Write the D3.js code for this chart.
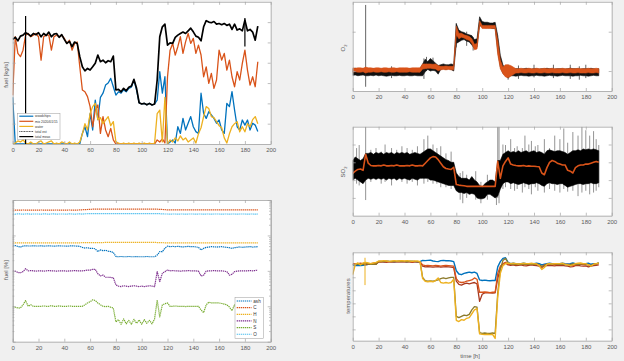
<!DOCTYPE html>
<html>
<head>
<meta charset="utf-8">
<script src="https://cdn.jsdelivr.net/npm/d3@7"></script>
<style>
  body { margin: 0; background: #f0f0f0; }
  svg { display: block; font-family: "Liberation Sans", Arial, sans-serif; }
</style>
</head>
<body>
<svg id="fig" width="624" height="361"></svg>
<script>
// ---- data (2 h grid, 0..190 h) ----
var hours = d3.range(0, 192, 2);
var xTicks = [0, 20, 40, 60, 80, 100, 120, 140, 160, 180, 200];

// fuel flows [kg/s]
var woodchips = [2.3,0,0,0,0,0,0,0,0,0, 0,0,0,0,0,0,0,0,0,0, 0,0,0,0,0,0,0,0.52,0.85,0.36,
  1.5,0.69,2.16,1.2,2.3,2.5,2.9,3.0,3.23,2.82, 2.41,2.57,2.5,2.66,2.57,2.74,2.8,3.15,2.66,2.03,
  1.97,2.0,1.93,2.0,1.92,1.97,2.16,3.56,2.5,3.31, 0,0.1,0.2,0.05,0.85,0.52,1.26,0.69,1.02,1.35,
  0.85,0.61,0.52,2.5,1.5,1.26,1.59,1.43,1.26,1.02, 1.18,0.69,0.52,2.0,1.84,2.58,1.67,0.85,0.69,1.18,
  0.93,1.18,0.69,1.02,0.93,0.61];
var mix = [2.4,5.28,4.46,4.3,4.62,5.36,5.44,5.28,5.36,5.44, 5.28,4.13,5.28,5.36,5.36,4.62,5.28,5.36,5.28,5.36,
  5.2,4.95,5.11,4.62,4.95,5.02,3.8,2.66,2.57,2.33, 1.84,0.85,1.67,1.92,0.52,1.35,0.69,0.36,0.77,0.2,
  0,0,0,0,0,0,0,0,0,0, 0,0,0,0,0,0,0.2,0.1,0.25,0.05,
  3.3,4.62,4.95,4.38,4.79,5.28,4.46,5.03,5.44,4.95, 5.2,4.46,4.87,4.38,3.31,3.8,2.98,3.48,2.74,3.15,
  4.62,4.13,4.46,3.64,4.13,3.31,2.82,3.56,3.15,3.97, 4.62,3.64,2.9,3.31,2.82,4.05];
var water = [0,0.05,0.15,0.1,0.2,0.05,0,0.1,0,0, 0.1,0.15,0,0.05,0.1,0.15,0,0.05,0,0.1,
  0.05,0,0.1,0,0.05,0,0.1,0.5,1.0,0.7, 1.5,1.84,2.0,1.2,1.3,1.0,1.18,1.35,0.9,1.1,
  0.1,0.05,0,0.05,0,0.05,0,0.05,0,0.05, 0,0.05,0,0.05,0,0.05,1.5,1.67,0.1,2.3,
  0,0.2,0.1,0.3,0.15,0.4,0.2,0.3,0.1,0.2, 0.3,0.05,0.5,0.8,1.35,1.84,1.75,1.35,1.3,1.1,
  0.9,0.8,0.3,0.05,0.5,0.85,1.0,1.1,0.6,0.85, 0.6,1.0,0.85,1.2,1.35,1.0];
var totalMeas = [5.15,5.25,5.08,5.31,5.36,5.48,5.41,5.31,5.44,5.38, 5.48,5.28,5.44,5.34,5.51,5.28,5.41,5.44,5.25,5.38,
  5.15,4.95,5.05,4.79,5.02,4.95,4.3,3.8,3.6,3.72, 3.64,3.8,3.97,4.38,4.05,4.13,4.0,4.1,4.05,4.33,
  2.66,2.69,2.57,2.74,2.62,2.79,2.85,3.18,2.74,2.03, 1.97,2.0,1.93,2.0,1.92,1.97,3.15,5.28,5.77,5.9,
  4.87,4.98,4.95,5.25,5.36,5.44,5.51,5.44,5.57,5.7, 5.52,5.31,5.25,5.08,5.77,6.07,6.0,5.97,6.03,5.9,
  5.93,5.87,5.93,5.84,5.9,5.64,5.9,5.61,5.67,5.57, 6.1,5.57,5.64,5.51,5.11,5.8];
var measSpikeT = [10, 180];
var measSpikeLo = [0, 4.8];
var measSpikeHi = [6.3, 6.2];
var fuelNames = ["woodchips", "mix 2020/01/15", "water", "total est", "total meas"];

// fuel composition [%]
var ash = [5.03,5.2,4.9,4.7,5.0,5.1,5.03,5.03,5.1,5.03, 5.03,5.1,5.0,5.03,5.1,5.03,5.0,5.03,5.1,5.03,
  5.03,5.0,5.03,5.1,5.03,5.0,4.9,4.6,4.4,4.5, 4.3,4.33,4.2,3.5,3.9,3.72,3.8,3.6,3.48,3.3,
  2.55,2.5,2.55,2.5,2.5,2.55,2.5,2.5,2.52,2.5, 2.5,2.5,2.55,2.5,2.5,2.5,2.8,3.48,3.5,4.33,
  5.0,4.82,4.9,4.82,4.9,4.82,4.75,4.82,4.9,4.82, 4.82,4.75,4.6,3.9,4.3,4.6,4.7,4.82,4.75,4.7,
  4.75,4.82,4.7,4.6,4.5,4.3,4.5,4.6,4.75,4.6, 4.7,4.75,4.82,4.7,4.75,4.82];
var carbon = [52,52,51.8,52,52.2,52,52,51.8,52,52, 52,52.2,52,52,51.8,52,52,52.2,52,52,
  52,52,52.2,52,52,52,52.5,53,53.5,54, 54.5,55,55,55.3,55,55,55.3,55,55,55,
  55.3,55,55,55.3,55,55,55.3,55,55,55.3, 55,55,55.3,55,55,55,55,54.5,54,53.5,
  52.5,52.5,52.3,52.5,52.5,52.3,52.5,52.5,52.3,52.5, 52.5,52.5,52.3,52.5,52.5,52.3,52.5,52.5,52.3,52.5,
  52.5,52.5,52.3,52.5,52.5,52.3,52.5,52.5,52.3,52.5, 52.5,52.5,52.3,52.5,52.5,52.3];
var hydrogen = [6.2,6.2,6.15,6.2,6.2,6.2,6.15,6.2,6.2,6.2, 6.2,6.2,6.15,6.2,6.2,6.2,6.15,6.2,6.2,6.2,
  6.2,6.2,6.15,6.2,6.2,6.2,6.2,6.25,6.25,6.3, 6.3,6.3,6.3,6.3,6.3,6.3,6.35,6.35,6.35,6.35,
  6.4,6.4,6.4,6.4,6.4,6.4,6.4,6.4,6.4,6.4, 6.4,6.4,6.4,6.4,6.4,6.4,6.3,6.3,6.25,6.2,
  6.2,6.2,6.15,6.2,6.2,6.2,6.15,6.2,6.2,6.2, 6.2,6.2,6.15,6.2,6.2,6.2,6.15,6.2,6.2,6.2,
  6.2,6.2,6.15,6.2,6.2,6.2,6.15,6.2,6.2,6.2, 6.2,6.2,6.15,6.2,6.2,6.2];
var nitrogen = [1.0,0.98,0.9,0.88,0.95,1.15,1.0,1.02,1.0,0.98, 1.0,1.0,0.98,1.0,1.02,1.0,1.0,0.98,1.0,1.0,
  1.0,0.98,1.0,1.0,1.02,1.0,1.0,1.0,1.02,1.05, 1.05,1.1,1.1,0.83,0.72,0.76,0.66,0.66,0.65,0.64,
  0.4,0.37,0.36,0.38,0.37,0.36,0.37,0.38,0.37,0.36, 0.37,0.36,0.37,0.38,0.37,0.36,0.95,0.5,0.85,0.95,
  1.05,1.0,1.02,1.0,1.0,0.98,1.0,1.0,1.02,1.0, 1.0,1.0,0.98,0.72,0.75,0.98,1.0,1.0,1.02,1.0,
  1.0,1.0,0.98,0.95,0.76,0.8,0.95,0.98,1.0,1.0, 1.0,1.0,1.02,1.0,1.02,1.05];
var sulfur = [0.098,0.094,0.09,0.089,0.11,0.145,0.1,0.11,0.1,0.1, 0.1,0.1,0.102,0.1,0.1,0.104,0.1,0.1,0.102,0.1,
  0.1,0.1,0.102,0.1,0.1,0.1,0.1,0.1,0.11,0.124, 0.135,0.152,0.145,0.124,0.11,0.1,0.098,0.1,0.094,0.089,
  0.036,0.042,0.031,0.044,0.032,0.04,0.031,0.043,0.033,0.041, 0.031,0.042,0.033,0.04,0.032,0.044,0.15,0.05,0.11,0.118,
  0.124,0.1,0.1,0.102,0.1,0.1,0.1,0.098,0.1,0.1, 0.1,0.1,0.1,0.079,0.066,0.11,0.13,0.124,0.124,0.124,
  0.124,0.12,0.115,0.11,0.095,0.075,0.11,0.1,0.1,0.1, 0.1,0.1,0.102,0.1,0.1,0.1];
var oxygen = [40.3,40,40.5,40.3,40,40.3,40.5,40,40.3,40.3, 40.3,40,40.5,40.3,40,40.3,40.5,40,40.3,40.3,
  40.3,40,40.5,40.3,40,40.3,40.5,40,40.8,41, 41.5,41.3,41.5,41.5,41.3,41.5,41.5,41.3,41.5,41.5,
  41.5,41.3,41.5,41.5,41.3,41.5,41.5,41.3,41.5,41.5, 41.5,41.3,41.5,41.5,41.3,41.5,41.2,41,40.5,40.2,
  40.2,40,40.2,40.2,40,40.2,40.2,40,40.2,40.2, 40.2,40,40.2,40.2,40,40.2,40.2,40,40.2,40.2,
  40.2,40,40.2,40.2,40,40.2,40.2,40,40.2,40.2, 40.2,40,40.2,40.2,40,40.2];
var compNames = ["ash", "C", "H", "N", "S", "O"];

// O2 [%]: envelope of the measured (black) and modelled (orange) signal
var o2MeasLo = [4.45,4.5,4.4,4.45,4.5,4.4,4.4,4.45,4.4,4.5, 4.4,4.45,4.4,4.35,4.4,4.45,4.4,4.4,4.45,4.4,
  4.4,4.45,4.4,4.4,4.45,4.4,4.4,4.4,4.9,5.2, 5.0,5.1,5.0,4.6,5.2,5.3,5.2,5.3,5.2,5.0,
  8.5,8.7,8.9,9.0,8.8,8.7,8.3,7.9,8.0,10.8, 10.6,10.5,10.5,10.5,10.4,10.4,7.5,5.5,4.7,4.4,
  4.1,4.4,4.4,4.35,4.4,4.45,4.4,4.4,4.35,4.4, 4.4,4.45,4.4,4.4,4.35,4.4,4.45,4.4,4.4,4.35,
  4.4,4.45,4.4,4.4,4.4,4.35,4.4,4.4,4.45,4.4, 4.4,4.35,4.4,4.45,4.4,4.4];
var o2MeasHi = [5.3,5.35,5.3,5.25,5.3,5.3,5.25,5.3,5.3,5.25, 5.3,5.25,5.3,5.3,5.25,5.3,5.3,5.3,5.25,5.3,
  5.3,5.25,5.3,5.3,5.25,5.3,5.3,5.9,6.5,6.2, 6.6,6.3,6.0,5.7,5.8,5.9,5.8,5.8,5.9,5.8,
  11.0,10.2,10.0,9.9,9.7,9.6,9.5,9.0,9.1,11.9, 11.3,11.2,11.2,11.1,11.1,11.2,9.5,7.0,5.8,5.2,
  5.1,5.3,5.25,5.3,5.3,5.25,5.3,5.35,5.3,5.25, 5.3,5.3,5.25,5.3,5.3,5.35,5.3,5.3,5.25,5.3,
  5.3,5.3,5.25,5.3,5.35,5.3,5.3,5.3,5.25,5.3, 5.3,5.3,5.35,5.3,5.25,5.3];
var o2ModelLo = [4.85,4.9,4.85,4.85,4.9,4.75,4.85,4.85,4.9,4.85, 4.85,4.9,4.85,4.85,4.9,4.85,4.85,4.9,4.85,4.85,
  4.85,4.85,4.9,4.85,4.85,4.85,4.85,5.25,5.3,5.35, 5.35,5.3,5.25,5.05,5.15,5.2,5.15,5.2,5.15,5.15,
  9.6,9.1,9.3,9.2,9.0,8.9,8.5,7.7,7.8,10.9, 10.4,10.4,10.4,10.4,10.4,10.4,7.1,5.3,4.65,4.25,
  4.15,4.35,4.55,4.75,4.75,4.8,4.75,4.75,4.8,4.75, 4.75,4.8,4.75,4.75,4.8,4.75,4.75,4.8,4.75,4.75,
  4.75,4.8,4.75,4.75,4.8,4.75,4.75,4.8,4.75,4.75, 4.75,4.8,4.75,4.75,4.8,4.75];
var o2ModelHi = [5.4,5.35,5.4,5.4,5.35,5.5,5.4,5.4,5.35,5.4, 5.4,5.35,5.4,5.4,5.35,5.4,5.4,5.35,5.4,5.4,
  5.4,5.4,5.35,5.4,5.4,5.4,5.4,5.9,5.9,5.9, 5.9,5.85,5.9,5.7,5.6,5.6,5.65,5.6,5.6,5.6,
  10.7,9.8,9.8,9.6,9.5,9.4,9.1,8.4,8.5,11.4, 10.8,10.8,10.8,10.8,10.8,10.8,8.9,6.4,5.5,5.8,
  5.8,5.7,5.5,5.3,5.3,5.35,5.3,5.3,5.35,5.3, 5.3,5.35,5.3,5.3,5.35,5.3,5.3,5.35,5.3,5.3,
  5.3,5.35,5.3,5.3,5.35,5.3,5.3,5.35,5.3,5.3, 5.3,5.35,5.3,5.3,5.35,5.3];
var o2SpikeT = [10, 30, 55, 57, 62, 80, 88, 93, 120, 128, 140, 155, 168, 175, 180];
var o2SpikeLo = [3.0, 4.1, 4.0, 5.0, 5.0, 8.0, 8.2, 7.6, 3.9, 4.0, 4.2, 4.1, 4.0, 3.9, 4.1];
var o2SpikeHi = [13.4, 5.6, 6.6, 6.8, 6.7, 11.1, 10.0, 9.3, 5.8, 5.7, 5.8, 5.8, 5.8, 5.6, 5.8];

// SO2: dense core of measured signal, its spikes, and the model
var so2Lo = [2.0,2.1,2.0,1.9,1.8,2.0,2.1,2.05,2.1,2.05, 2.1,2.05,2.1,2.0,2.1,2.05,2.1,2.0,2.1,2.05,
  2.1,2.05,2.0,2.1,2.05,2.0,2.1,2.1,2.1,2.1, 2.0,2.0,1.95,1.9,1.85,1.8,1.75,1.7,1.7,1.7,
  1.4,1.3,1.3,1.25,1.3,1.2,1.25,1.2,1.0,0.95, 0.95,1.0,1.2,1.2,1.1,1.0,1.1,1.5,1.8,1.9,
  1.9,1.8,1.85,1.8,1.75,1.8,1.85,1.8,1.75,1.8, 1.8,1.85,1.8,1.7,1.65,1.8,1.85,1.8,1.8,1.75,
  1.8,1.8,1.7,1.6,1.65,1.7,1.75,1.8,1.8,1.75, 1.8,1.8,1.85,1.8,1.8,1.85];
var so2Hi = [3.1,3.3,3.2,3.1,3.2,3.5,3.5,3.55,3.45,3.55, 3.5,3.55,3.45,3.55,3.5,3.55,3.45,3.55,3.5,3.55,
  3.5,3.55,3.45,3.5,3.55,3.5,3.45,3.55,3.65,3.75, 3.75,3.65,3.55,3.45,3.35,3.25,3.15,3.1,3.0,3.0,
  2.4,2.2,2.1,2.1,2.1,2.0,2.2,2.0,1.9,1.7, 1.6,1.8,1.9,2.0,2.0,1.9,3.1,3.1,3.45,3.55,
  3.65,3.55,3.6,3.55,3.65,3.55,3.6,3.65,3.55,3.6, 3.65,3.55,3.6,3.55,3.45,3.65,3.7,3.65,3.6,3.65,
  3.65,3.6,3.55,3.45,3.55,3.65,3.65,3.7,3.65,3.75, 3.7,3.75,3.7,3.75,3.7,3.65];
var so2SpikeT = [3,5,10,14,18,22,25,30,34,38,42,46,50,55,58,62,65,68,72,76,83,85,88,95,99,104,111,112,113,116,
  118,122,125,127,131,133,136,138,141,143,148,152,156,160,163,166,170,174,177,180,183,186,188,190];
var so2SpikeLo = [1.8,1.7,0.88,1.9,2.0,1.8,1.9,1.7,2.0,1.9,1.8,1.9,1.7,1.8,1.9,1.8,1.8,1.6,1.6,1.5,0.9,0.7,1.0,0.9,0.7,0.9,0.6,1.0,0.7,1.5,
  1.6,1.5,1.4,1.5,1.3,1.6,1.5,1.2,1.6,1.4,1.3,1.5,1.4,1.3,1.5,1.35,1.4,1.1,1.3,1.4,1.2,1.3,1.4,1.6];
var so2SpikeHi = [3.8,3.97,5.0,3.7,3.8,3.6,4.0,3.8,3.7,3.9,3.8,3.7,3.9,4.3,4.5,4.0,3.8,3.9,3.5,3.6,2.4,2.5,2.3,2.5,1.9,2.3,2.2,5.0,5.0,4.0,
  3.97,4.3,3.8,3.9,3.8,4.5,4.0,4.2,3.9,3.97,4.3,3.8,4.5,4.3,4.9,4.1,4.7,4.5,5.0,4.8,4.5,4.75,4.3,3.97];
var so2Model = [2.38,2.5,2.6,2.62,2.55,3.45,2.95,2.82,2.8,2.8, 2.82,2.8,2.85,2.8,2.8,2.82,2.8,2.85,2.8,2.8,
  2.8,2.82,2.8,2.85,2.8,2.8,2.82,2.8,2.95,3.1, 3.25,3.32,3.3,3.15,2.95,2.75,2.65,2.62,2.6,2.72,
  1.75,1.72,1.7,1.68,1.65,1.65,1.65,1.65,1.65,1.65, 1.65,1.65,1.65,1.65,1.65,1.65,3.05,2.1,2.8,3.05,
  3.25,2.9,2.85,2.82,2.8,2.8,2.82,2.78,2.8,2.78, 2.78,2.76,2.75,2.4,2.3,2.7,3.0,3.1,3.05,2.95,
  2.9,2.85,2.85,2.55,2.5,2.4,2.7,2.8,2.85,2.85, 2.9,2.9,2.95,3.0,3.05,3.0];

// temperatures (arbitrary units)
var tempBlue = [5.95,5.9,5.92,5.9,5.92,5.95,6.0,6.02,6.05,6.08, 6.2,6.22,6.18,6.2,6.22,6.2,6.18,6.2,6.22,6.2,
  6.2,6.18,6.22,6.2,6.2,6.18,6.2,6.3,6.28,6.3, 6.32,6.25,6.22,6.2,6.28,6.3,6.27,6.28,6.25,6.2,
  5.5,5.25,5.2,5.3,5.35,5.4,5.35,5.4,5.3,4.8, 4.75,4.78,4.75,4.73,4.75,4.75,5.8,6.2,6.45,6.5,
  6.15,6.05,6.08,6.05,6.03,6.05,6.08,6.05,6.03,6.05, 6.05,6.08,6.05,5.95,6.0,6.05,6.08,6.05,6.03,6.05,
  6.05,6.08,6.05,6.03,6.05,6.1,6.05,6.0,6.05,6.03, 6.05,6.08,6.0,6.05,6.03,6.1];
var tempOrange = [6.05,6.02,6.05,6.08,6.05,6.1,6.05,6.05,6.08,6.05, 6.2,6.18,6.2,6.22,6.2,6.18,6.2,6.2,6.22,6.2,
  6.2,6.22,6.2,6.18,6.2,6.2,6.18,5.95,5.9,5.92, 5.9,5.88,5.92,5.9,5.85,5.9,5.92,5.9,5.88,5.85,
  4.9,4.65,4.6,4.62,4.7,4.75,4.8,4.95,4.85,3.85, 3.85,3.87,3.85,3.83,3.85,3.85,5.3,5.85,6.05,6.15,
  6.0,6.02,6.0,5.98,6.0,6.02,6.0,5.98,6.02,6.0, 6.0,6.02,5.95,5.8,5.95,6.0,6.02,6.0,5.98,6.0,
  6.0,6.02,5.98,6.0,5.95,5.9,5.95,6.0,6.02,5.98, 6.0,5.95,5.9,6.0,6.02,6.05];
var tempRed = [6.0,5.98,6.0,6.02,6.0,5.98,6.0,6.02,6.0,6.0, 6.18,6.2,6.18,6.15,6.18,6.2,6.18,6.18,6.2,6.18,
  6.18,6.2,6.18,6.15,6.18,6.2,6.18,5.85,5.8,5.82, 5.8,5.78,5.8,5.82,5.78,5.8,5.82,5.8,5.78,5.75,
  4.7,4.45,4.4,4.5,4.55,4.5,4.55,4.6,4.5,3.15, 3.7,3.8,3.82,3.8,3.78,3.8,4.9,5.7,6.0,6.1,
  5.95,5.92,5.95,5.9,5.92,5.95,5.9,5.88,5.92,5.95, 5.92,5.9,5.85,5.75,5.85,5.9,5.92,5.9,5.88,5.92,
  5.9,5.92,5.88,5.85,5.8,5.82,5.9,5.92,5.88,5.85, 5.88,5.8,5.85,5.9,5.92,5.95];
var tempYellow = [5.2,6.0,6.1,5.95,6.1,6.15,6.1,6.05,6.1,6.15, 6.25,6.25,6.28,6.25,6.22,6.25,6.28,6.25,6.25,6.28,
  6.25,6.28,6.25,6.22,6.25,6.25,6.2,4.9,4.7,4.65, 4.7,4.65,4.75,4.95,4.6,4.55,4.6,4.55,4.6,4.85,
  1.7,1.6,1.75,1.7,1.85,1.9,2.2,2.5,2.6,0.65, 0.62,0.6,0.62,0.6,0.62,0.3,3.5,5.3,5.9,6.05,
  6.1,6.05,6.08,6.05,6.02,6.05,6.08,6.05,6.05,6.08, 6.05,6.02,5.9,5.6,5.75,6.0,6.05,6.02,6.05,6.05,
  6.05,6.08,6.0,5.95,5.9,5.95,6.05,6.08,6.1,6.05, 6.05,5.95,5.85,6.0,6.05,6.1];
var tempOlive = [6.0,5.98,6.02,6.0,6.0,6.05,6.02,6.0,6.02,6.0, 6.22,6.2,6.22,6.25,6.22,6.2,6.22,6.22,6.25,6.22,
  6.22,6.2,6.22,6.25,6.22,6.2,6.2,5.0,4.75,4.7, 4.72,4.7,4.75,4.8,4.9,4.95,4.9,4.95,5.0,5.0,
  2.0,1.9,2.0,2.1,2.05,2.15,2.5,2.75,2.7,0.75, 0.7,0.72,0.7,0.7,0.72,0.7,3.8,5.6,6.3,6.45,
  6.1,6.0,6.02,6.0,5.98,6.0,6.02,6.0,6.0,6.02, 6.0,6.02,5.95,5.85,5.9,6.0,6.02,6.0,6.05,6.0,
  6.0,6.02,5.98,5.95,6.0,6.02,6.0,5.98,6.02,6.05, 6.0,5.95,5.9,6.0,6.02,6.1];
var tempSpikeT = [9.5];
var tempSpikeLo = [4.4];
var tempSpikeHi = [6.5];

// ---- drawing ----
var svg = d3.select("#fig");
var axisGray = "#a3a3a3", labelGray = "#5a5a5a";

function makeAxes(id, x0, y0, x1, y1, y) {
  var x = d3.scaleLinear().domain([0, 200]).range([x0, x1]);
  var g = svg.append("g");
  g.append("rect").attr("x", x0).attr("y", y0).attr("width", x1 - x0).attr("height", y1 - y0)
    .attr("fill", "#fff");
  svg.append("clipPath").attr("id", id).append("rect")
    .attr("x", x0).attr("y", y0).attr("width", x1 - x0).attr("height", y1 - y0);
  var plot = g.append("g").attr("clip-path", "url(#" + id + ")");
  var frame = g.append("g");
  return { x: x, y: y, plot: plot, frame: frame, x0: x0, y0: y0, x1: x1, y1: y1 };
}

function drawFrame(ax, yTicks, minorTicks) {
  var f = ax.frame;
  f.append("g").attr("transform", "translate(0," + ax.y1 + ")")
    .call(d3.axisBottom(ax.x).tickValues(xTicks).tickSize(-3).tickSizeOuter(0).tickPadding(4));
  f.append("g").attr("transform", "translate(0," + ax.y0 + ")")
    .call(d3.axisTop(ax.x).tickValues(xTicks).tickSize(-3).tickSizeOuter(0).tickFormat(""));
  f.append("g").attr("transform", "translate(" + ax.x0 + ",0)")
    .call(d3.axisLeft(ax.y).tickValues(yTicks).tickSize(-3).tickSizeOuter(0).tickFormat(""));
  f.append("g").attr("transform", "translate(" + ax.x1 + ",0)")
    .call(d3.axisRight(ax.y).tickValues(yTicks).tickSize(-3).tickSizeOuter(0).tickFormat(""));
  if (minorTicks) {
    f.append("g").attr("transform", "translate(" + ax.x0 + ",0)")
      .call(d3.axisLeft(ax.y).tickValues(minorTicks).tickSize(-1.6).tickSizeOuter(0).tickFormat(""));
    f.append("g").attr("transform", "translate(" + ax.x1 + ",0)")
      .call(d3.axisRight(ax.y).tickValues(minorTicks).tickSize(-1.6).tickSizeOuter(0).tickFormat(""));
  }
  f.selectAll("path.domain").attr("stroke", axisGray).attr("stroke-width", 0.8);
  f.selectAll(".tick line").attr("stroke", axisGray).attr("stroke-width", 0.7);
  f.selectAll(".tick text").attr("fill", labelGray).attr("font-size", 6)
    .attr("font-family", "Liberation Sans, Arial, sans-serif");
}

function yLabel(text, cx, cy, sub) {
  var t = svg.append("text").attr("transform", "translate(" + cx + "," + cy + ") rotate(-90)")
    .attr("text-anchor", "middle").attr("font-size", 6).attr("fill", labelGray).text(text);
  if (sub) t.append("tspan").attr("font-size", 4).attr("dy", 1.5).text(sub);
}

function drawLine(ax, values, color, width, dash) {
  var line = d3.line().x(function (d, i) { return ax.x(hours[i]); })
    .y(function (d) { return ax.y(d); });
  var p = ax.plot.append("path").datum(values).attr("fill", "none").attr("stroke", color)
    .attr("stroke-width", width).attr("stroke-linejoin", "round").attr("d", line);
  if (dash) p.attr("stroke-dasharray", dash);
}

function drawBand(ax, lo, hi, color) {
  var area = d3.area().x(function (d, i) { return ax.x(hours[i]); })
    .y0(function (d, i) { return ax.y(lo[i]); }).y1(function (d, i) { return ax.y(hi[i]); });
  ax.plot.append("path").datum(lo).attr("fill", color).attr("stroke", color)
    .attr("stroke-width", 0.6).attr("d", area);
}

function drawSpikes(ax, ts, lo, hi, color, width) {
  ax.plot.selectAll(null).data(ts).enter().append("line")
    .attr("x1", function (d) { return ax.x(d); }).attr("x2", function (d) { return ax.x(d); })
    .attr("y1", function (d, i) { return ax.y(lo[i]); }).attr("y2", function (d, i) { return ax.y(hi[i]); })
    .attr("stroke", color).attr("stroke-width", width);
}

var blue = "#0072BD", orange = "#D95319", yellow = "#EDB120", purple = "#7E2F8E",
  green = "#77AC30", cyan = "#4DBEEE", darkRed = "#A8391F", olive = "#8C7A2B";

// panel 1: fuel flows
var ax1 = makeAxes("c1", 12.7, 1.8, 270.7, 144, d3.scaleLinear().domain([0, 7]).range([144, 1.8]));
drawLine(ax1, woodchips, blue, 1.3);
drawLine(ax1, mix, orange, 1.3);
drawLine(ax1, water, yellow, 1.3);
drawLine(ax1, totalMeas, "#000", 1.7);
drawSpikes(ax1, measSpikeT, measSpikeLo, measSpikeHi, "#000", 1.2);
drawFrame(ax1, [1, 2, 3, 4, 5, 6]);
yLabel("fuel [kg/s]", 7.5, 75);

var lg1 = svg.append("g");
lg1.append("rect").attr("x", 17.3).attr("y", 113.3).attr("width", 42.7).attr("height", 26)
  .attr("fill", "#fff").attr("stroke", "#9a9a9a").attr("stroke-width", 0.5);
var lg1Colors = [blue, orange, yellow, "#222", "#000"];
fuelNames.forEach(function (name, i) {
  var yy = 116.2 + i * 5.1;
  lg1.append("line").attr("x1", 19.3).attr("x2", 33.3).attr("y1", yy).attr("y2", yy)
    .attr("stroke", lg1Colors[i]).attr("stroke-width", i === 3 ? 0.8 : 1.2)
    .attr("stroke-dasharray", i === 3 ? "1,0.6" : null);
  lg1.append("text").attr("x", 35).attr("y", yy + 1.2).attr("font-size", 3.3)
    .attr("fill", "#333").text(name);
});

// panel 2: fuel composition (log scale)
var yLog = d3.scaleLog().domain([0.01, 100]).range([341.7, 200]);
var ax2 = makeAxes("c2", 12.7, 200, 270.7, 341.7, yLog);
var compSeries = [ash, carbon, hydrogen, nitrogen, sulfur, oxygen];
var compColors = [blue, orange, yellow, purple, green, cyan];
compSeries.forEach(function (s, i) { drawLine(ax2, s, compColors[i], 1.2, "1.3,0.7"); });
var majors = [0.01, 0.1, 1, 10, 100];
var minors = yLog.ticks().filter(function (v) { return majors.indexOf(v) < 0; });
drawFrame(ax2, majors, minors);
yLabel("fuel [%]", 7.5, 270);

var lg2 = svg.append("g");
lg2.append("rect").attr("x", 235).attr("y", 297.3).attr("width", 28.3).attr("height", 41)
  .attr("fill", "#fff").attr("stroke", "#9a9a9a").attr("stroke-width", 0.5);
compNames.forEach(function (name, i) {
  var yy = 301 + i * 6.65;
  lg2.append("line").attr("x1", 236.7).attr("x2", 251.5).attr("y1", yy).attr("y2", yy)
    .attr("stroke", compColors[i]).attr("stroke-width", 1.2).attr("stroke-dasharray", "1.3,0.7");
  lg2.append("text").attr("x", 253.3).attr("y", yy + 1.6).attr("font-size", 4.6)
    .attr("fill", "#333").text(name);
});

// panel 3: O2
var ax3 = makeAxes("c3", 352.7, 1.8, 611.7, 91, d3.scaleLinear().domain([2.46, 13.8]).range([91, 1.8]));
drawBand(ax3, o2MeasLo, o2MeasHi, "#111");
drawSpikes(ax3, o2SpikeT, o2SpikeLo, o2SpikeHi, "#222", 0.7);
drawBand(ax3, o2ModelLo, o2ModelHi, orange);
drawFrame(ax3, [5, 10]);
yLabel("O", 345, 48, "2");

// panel 4: SO2
var ax4 = makeAxes("c4", 352.7, 126.7, 611.7, 215.7, d3.scaleLinear().domain([0, 5]).range([215.7, 126.7]));
drawSpikes(ax4, so2SpikeT, so2SpikeLo, so2SpikeHi, "#3a3a3a", 0.55);
drawBand(ax4, so2Lo, so2Hi, "#000");
drawLine(ax4, so2Model, orange, 1.6);
drawFrame(ax4, [1, 2, 3, 4]);
yLabel("SO", 345, 172, "2");

// panel 5: temperatures
var ax5 = makeAxes("c5", 352.7, 252.3, 611.7, 340.7, d3.scaleLinear().domain([0.13, 6.92]).range([340.7, 252.3]));
drawLine(ax5, tempBlue, blue, 1.4);
drawLine(ax5, tempRed, darkRed, 1.3);
drawLine(ax5, tempOrange, orange, 1.3);
drawLine(ax5, tempOlive, olive, 1.3);
drawLine(ax5, tempYellow, yellow, 1.4);
drawSpikes(ax5, tempSpikeT, tempSpikeLo, tempSpikeHi, yellow, 1);
drawFrame(ax5, [1, 2, 3, 4, 5, 6]);
yLabel("temperatures", 350, 296);
svg.append("text").attr("x", 470).attr("y", 358).attr("text-anchor", "middle")
  .attr("font-size", 6).attr("fill", labelGray).text("time [h]");
</script>
</body>
</html>
